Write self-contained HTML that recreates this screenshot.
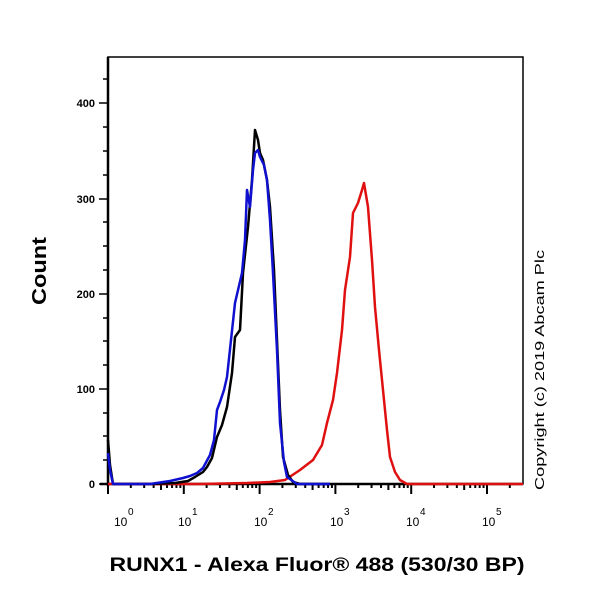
<!DOCTYPE html>
<html><head><style>
body{margin:0;background:#fff}
svg{display:block}
text{font-family:"Liberation Sans",Arial,sans-serif}
</style></head><body>
<svg width="600" height="600" viewBox="0 0 600 600">
<rect x="108" y="57" width="415" height="427" fill="none" stroke="#000" stroke-width="1.5"/>
<line x1="108" y1="57" x2="108" y2="486" stroke="#000" stroke-width="2.5"/>
<line x1="100" y1="484" x2="523" y2="484" stroke="#000" stroke-width="2.5"/>
<g stroke="#000" stroke-width="1.5">
<line x1="99" y1="484" x2="108" y2="484"/>
<line x1="99" y1="389" x2="108" y2="389"/>
<line x1="99" y1="294" x2="108" y2="294"/>
<line x1="99" y1="199" x2="108" y2="199"/>
<line x1="99" y1="103" x2="108" y2="103"/>
<line x1="103" y1="436" x2="108" y2="436"/>
<line x1="103" y1="341" x2="108" y2="341"/>
<line x1="103" y1="246" x2="108" y2="246"/>
<line x1="103" y1="151" x2="108" y2="151"/>
<line x1="103" y1="79" x2="108" y2="79"/>
<line x1="103" y1="460" x2="108" y2="460"/>
<line x1="103" y1="413" x2="108" y2="413"/>
<line x1="103" y1="365" x2="108" y2="365"/>
<line x1="103" y1="318" x2="108" y2="318"/>
<line x1="103" y1="270" x2="108" y2="270"/>
<line x1="103" y1="222" x2="108" y2="222"/>
<line x1="103" y1="175" x2="108" y2="175"/>
<line x1="103" y1="127" x2="108" y2="127"/>
</g>
<g id="xt" stroke="#000" stroke-width="2"></g>
<g font-size="11" font-weight="bold" text-anchor="end">
<text x="95" y="488">0</text><text x="95" y="393">100</text><text x="95" y="298">200</text><text x="95" y="203">300</text><text x="95" y="107">400</text>
</g>
<g font-size="12">
<text x="114" y="526">10</text><text x="128" y="515" font-size="10">0</text>
<text x="178" y="526">10</text><text x="192" y="515" font-size="10">1</text>
<text x="254" y="526">10</text><text x="268" y="515" font-size="10">2</text>
<text x="330" y="526">10</text><text x="344" y="515" font-size="10">3</text>
<text x="406" y="526">10</text><text x="420" y="515" font-size="10">4</text>
<text x="482" y="526">10</text><text x="496" y="515" font-size="10">5</text>
</g>
<polyline fill="none" stroke="#e01010" stroke-width="2.5" stroke-linejoin="round" points="108,484 160,484 200,484 247,483 270,482 285,480 300,470 313,460 322,445 327,423 333,400 337,373 342,330 345,290 350,257 353,213 358,203 362,190 364,183 368,207 372,260 375,307 379,350 383,390 387,430 390,457 395,472 400,480 407,484 523,484"/>
<polyline fill="none" stroke="#000" stroke-width="2.5" stroke-linejoin="round" points="108,440 110,465 113,484 150,484 175,483 188,481 195,477 203,472 207,467 212,458 217,437 222,425 227,407 232,373 235,337 240,330 243,273 248,227 252,180 255,130 258,140 260,153 263,160 267,180 270,207 274,270 277,340 280,410 283,457 288,475 293,482 300,484 330,484"/>
<polyline fill="none" stroke="#1010d0" stroke-width="2.5" stroke-linejoin="round" points="108,453 110,470 113,484 150,484 170,481 183,478 190,476 197,473 203,468 210,455 214,440 217,410 220,402 224,390 227,377 231,340 235,303 242,273 245,240 247,190 250,207 253,170 255,153 258,150 260,157 264,165 267,180 270,220 273,273 277,350 280,423 284,462 287,477 297,484 330,484"/>
<text transform="translate(46,271) rotate(-90)" font-size="20" font-weight="bold" text-anchor="middle" textLength="68" lengthAdjust="spacingAndGlyphs">Count</text>
<text x="317" y="571" font-size="19" font-weight="bold" text-anchor="middle" textLength="415" lengthAdjust="spacingAndGlyphs">RUNX1 - Alexa Fluor® 488 (530/30 BP)</text>
<text transform="translate(544,370) rotate(-90)" font-size="13" text-anchor="middle" textLength="240" lengthAdjust="spacingAndGlyphs">Copyright (c) 2019 Abcam Plc</text>
</svg>
<script>
var g=document.getElementById('xt'),s='';
for(var d=0;d<6;d++){for(var m=1;m<10;m++){var x=108+75.8*(d+Math.log10(m));if(x>523)break;var l=m==1?10:(m==5?6:4);s+='<line x1="'+x+'" y1="484" x2="'+x+'" y2="'+(484+l)+'"/>';}}
g.innerHTML=s;
</script>
</body></html>
